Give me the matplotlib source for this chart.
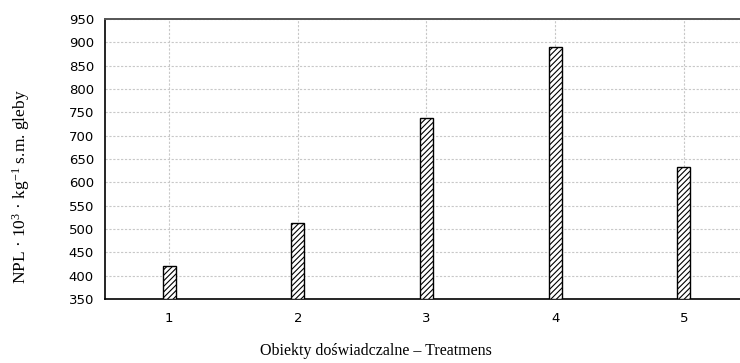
import numpy as np
import matplotlib.pyplot as plt

plt.rcParams['hatch.color'] = '#333333'
plt.rcParams['hatch.linewidth'] = 0.8
plt.rcParams['mathtext.fontset'] = 'custom'
plt.rcParams['mathtext.rm'] = 'Liberation Serif'
plt.rcParams['mathtext.it'] = 'Liberation Serif:italic'

treatments = [1, 2, 3, 4, 5]
npl = [420, 513, 738, 890, 632]
yticks = list(range(350, 951, 50))

fig = plt.figure(figsize=(7.4, 3.63), dpi=100)
ax = fig.add_axes([105 / 740, 1 - 299 / 363, 643 / 740, 280 / 363])

ax.bar(treatments, np.array(npl) - 350, bottom=350, width=0.1,
       color='white', edgecolor='black', linewidth=1.0, hatch='//////', zorder=3)

ax.set_xlim(0.5, 5.5)
ax.set_ylim(350, 950)
ax.set_xticks(treatments)
ax.set_yticks(yticks)
ax.grid(True, linestyle=(0, (2, 1.5)), color='#c8c8c8', linewidth=0.8, zorder=0)

tick_font = dict(family='DejaVu Sans', size=9.5)
ax.set_xticklabels([str(t) for t in treatments], **tick_font)
ax.set_yticklabels([str(v) for v in yticks], **tick_font)
ax.tick_params(axis='y', length=0, pad=8)
ax.tick_params(axis='x', length=0, pad=9)

for s in ['left', 'bottom']:
    ax.spines[s].set_color('black')
    ax.spines[s].set_linewidth(1.2)
ax.spines['top'].set_color('#555555')
ax.spines['top'].set_linewidth(1.4)
ax.spines['right'].set_visible(False)

fig.text(376 / 740, 1 - 351 / 363, 'Obiekty doświadczalne – Treatmens',
         ha='center', va='center', family='Liberation Serif', size=11.5)
fig.text(21 / 740, 1 - 187 / 363, r'NPL · 10$^{3}$ · kg$^{-1}$ s.m. gleby',
         ha='center', va='center', rotation=90, family='Liberation Serif', size=12.5)

fig.savefig('out.png', dpi=100)
